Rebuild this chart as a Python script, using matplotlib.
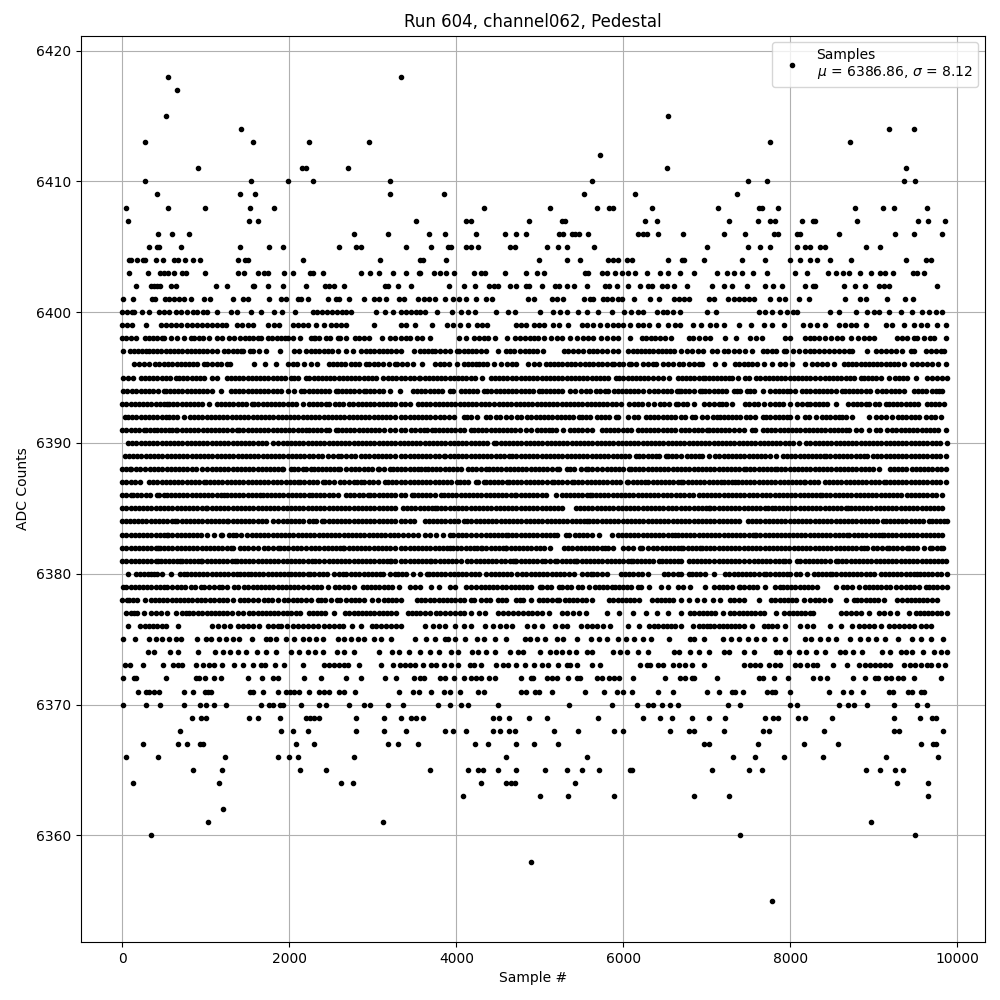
import matplotlib
matplotlib.use("Agg")
import matplotlib.pyplot as plt
import numpy as np

# Sample numbers, in tens of samples, one list per ADC level
s6418 = [55, 334]
s6417 = [66]
s6415 = [52, 654]
s6414 = [142, 918, 948]
s6413 = [27, 157, 223, 296, 775, 871]
s6412 = [572]
s6411 = [91, 215, 220, 270, 652, 938]
s6410 = [27, 154, 199, 228, 320, 563, 749, 772, 936, 949]
s6409 = [42, 141, 159, 321, 385, 553, 614, 736]
s6408 = [4, 55, 99, 153, 182, 433, 512, 569, 583, 587, 634, 713, 762, 766, 785, 877, 911, 924, 964]
s6407 = [7, 152, 162, 352, 411, 417, 487, 527, 530, 626, 640, 727, 761, 775, 782, 814, 827, 829, 880, 953, 965, 985]
s6406 = [43, 60, 80, 277, 318, 367, 387, 424, 458, 471, 483, 523, 528, 538, 542, 547, 558, 617, 623, 628, 642, 671, 720, 746, 780, 785, 808, 811, 858, 925, 948, 982]
s6405 = [32, 42, 44, 70, 141, 176, 192, 259, 280, 286, 340, 370, 390, 394, 412, 417, 426, 464, 470, 509, 522, 532, 565, 700, 749, 763, 776, 808, 817, 823, 836, 842, 890, 907]
s6404 = [8, 10, 18, 25, 27, 40, 49, 62, 67, 75, 85, 93, 138, 147, 151, 217, 309, 357, 360, 388, 499, 532, 548, 582, 587, 594, 604, 610, 653, 670, 673, 697, 742, 770, 800, 812, 823, 832, 848, 872, 938, 962, 968]
s6403 = [8, 31, 45, 50, 55, 62, 72, 76, 99, 139, 146, 163, 170, 175, 194, 205, 225, 228, 240, 286, 297, 307, 324, 340, 355, 357, 373, 380, 388, 397, 421, 429, 434, 458, 483, 497, 505, 554, 558, 575, 581, 590, 598, 606, 614, 628, 644, 653, 668, 684, 712, 724, 732, 742, 755, 772, 806, 820, 845, 854, 863, 870, 883, 896, 907, 913, 923, 947, 952, 960]
s6402 = [16, 34, 38, 42, 45, 58, 64, 112, 126, 156, 158, 175, 192, 220, 243, 247, 254, 266, 314, 318, 330, 346, 391, 409, 422, 439, 445, 450, 464, 471, 483, 487, 502, 518, 523, 532, 541, 557, 578, 583, 592, 605, 620, 630, 634, 646, 652, 661, 676, 706, 721, 730, 748, 769, 779, 790, 817, 827, 829, 864, 877, 889, 906, 912, 918, 976]
s6401 = [1, 13, 36, 39, 51, 56, 62, 68, 74, 82, 98, 105, 132, 145, 150, 176, 190, 196, 211, 214, 222, 246, 256, 260, 271, 289, 301, 307, 316, 331, 337, 354, 361, 367, 375, 386, 396, 403, 411, 423, 436, 443, 486, 493, 515, 520, 528, 553, 560, 564, 576, 581, 586, 593, 598, 613, 632, 643, 661, 667, 673, 678, 703, 708, 725, 733, 739, 745, 751, 757, 776, 786, 794, 810, 822, 865, 883, 890, 916, 937, 947]
s6400 = [0, 6, 12, 14, 24, 32, 44, 50, 56, 64, 70, 78, 85, 90, 97, 101, 114, 130, 137, 154, 166, 182, 191, 207, 228, 233, 239, 245, 251, 257, 263, 268, 274, 304, 314, 324, 334, 340, 346, 352, 356, 362, 377, 395, 405, 414, 422, 448, 462, 470, 500, 516, 524, 532, 546, 556, 570, 586, 601, 609, 617, 624, 640, 647, 652, 660, 668, 700, 711, 762, 770, 778, 788, 796, 803, 808, 848, 858, 878, 892, 900, 906, 918, 932, 945, 958, 966, 974, 982]
s6399 = [0, 6, 12, 28, 46, 52, 58, 64, 70, 78, 84, 90, 95, 101, 107, 113, 119, 124, 137, 143, 150, 156, 175, 182, 188, 204, 210, 216, 222, 232, 242, 250, 256, 262, 268, 301, 334, 340, 351, 371, 389, 396, 404, 414, 425, 431, 437, 471, 477, 483, 493, 499, 505, 516, 523, 534, 551, 557, 564, 572, 580, 587, 594, 599, 608, 617, 624, 631, 642, 654, 662, 668, 683, 693, 704, 711, 720, 739, 753, 768, 778, 792, 815, 824, 832, 842, 858, 865, 872, 878, 890, 915, 922, 936, 948, 956, 964, 976, 986]
s6398 = [0, 5, 10, 17, 27, 32, 37, 42, 47, 50, 58, 65, 74, 82, 86, 92, 97, 104, 114, 120, 128, 134, 141, 147, 152, 157, 162, 166, 175, 179, 185, 190, 195, 199, 204, 213, 226, 231, 236, 230, 244, 249, 258, 261, 268, 279, 284, 289, 295, 311, 321, 327, 334, 340, 345, 353, 359, 368, 403, 412, 421, 427, 433, 438, 446, 461, 470, 476, 482, 488, 493, 498, 505, 513, 521, 526, 536, 545, 552, 558, 564, 573, 580, 587, 593, 608, 622, 627, 633, 638, 644, 650, 657, 679, 683, 691, 698, 704, 722, 735, 752, 759, 766, 793, 800, 818, 824, 828, 834, 842, 849, 856, 862, 872, 881, 888, 894, 900, 928, 934, 940, 948, 952, 960, 967, 972, 986]
s6397 = [1, 9, 14, 19, 24, 29, 32, 37, 42, 46, 52, 57, 62, 67, 72, 77, 82, 87, 92, 97, 102, 107, 114, 122, 127, 132, 137, 142, 145, 153, 157, 164, 172, 189, 206, 212, 220, 226, 231, 236, 241, 246, 251, 258, 268, 276, 286, 292, 297, 302, 307, 312, 317, 322, 328, 334, 349, 357, 361, 366, 371, 375, 380, 387, 393, 401, 403, 409, 414, 419, 424, 429, 436, 450, 459, 464, 469, 476, 482, 487, 492, 497, 504, 529, 534, 540, 546, 552, 559, 564, 569, 574, 580, 587, 594, 606, 611, 616, 621, 626, 631, 636, 641, 646, 651, 656, 661, 669, 676, 682, 689, 695, 706, 712, 720, 725, 732, 738, 746, 754, 767, 772, 778, 783, 792, 795, 803, 810, 817, 824, 828, 834, 840, 846, 852, 858, 864, 870, 874, 892, 902, 908, 914, 920, 926, 934, 944, 948, 962, 968, 974, 980, 984]
s6396 = [14, 20, 26, 32, 39, 44, 50, 55, 60, 65, 70, 75, 80, 85, 90, 98, 102, 108, 113, 118, 125, 129, 158, 171, 184, 198, 204, 209, 218, 226, 233, 247, 252, 257, 262, 267, 274, 279, 284, 292, 296, 301, 306, 312, 319, 326, 329, 335, 341, 348, 359, 375, 380, 385, 391, 401, 409, 414, 419, 424, 427, 432, 437, 445, 453, 461, 467, 472, 486, 493, 499, 507, 512, 517, 522, 527, 532, 537, 542, 548, 554, 559, 564, 570, 575, 580, 586, 589, 595, 600, 607, 609, 615, 623, 629, 635, 639, 648, 654, 660, 667, 672, 678, 684, 690, 694, 710, 720, 734, 739, 744, 749, 754, 760, 768, 778, 788, 794, 802, 818, 826, 832, 838, 844, 852, 864, 869, 874, 879, 884, 889, 894, 899, 904, 909, 914, 919, 924, 929, 936, 946, 952, 958, 964, 970, 977, 986]
s6395 = [1, 7, 13, 22, 27, 32, 37, 42, 47, 52, 57, 64, 68, 73, 78, 83, 88, 93, 98, 108, 114, 125, 130, 135, 140, 145, 150, 155, 160, 165, 170, 175, 180, 185, 190, 195, 202, 206, 211, 220, 224, 229, 234, 239, 244, 249, 254, 259, 264, 269, 274, 279, 284, 289, 294, 299, 304, 312, 318, 323, 328, 334, 339, 344, 349, 355, 357, 362, 367, 372, 377, 382, 387, 392, 397, 402, 407, 412, 417, 422, 431, 441, 446, 451, 456, 461, 467, 472, 477, 482, 487, 492, 497, 502, 507, 512, 517, 522, 527, 532, 537, 542, 547, 552, 557, 562, 567, 572, 577, 582, 591, 595, 600, 605, 610, 615, 620, 625, 630, 635, 641, 648, 655, 665, 670, 675, 680, 685, 690, 695, 698, 702, 707, 712, 717, 722, 727, 730, 737, 746, 751, 759, 764, 769, 774, 779, 784, 789, 794, 799, 804, 809, 814, 819, 824, 830, 836, 841, 846, 851, 856, 861, 866, 871, 876, 884, 888, 893, 898, 903, 908, 918, 925, 930, 935, 940, 950, 964, 970, 976, 981, 987]
s6394 = [1, 6, 12, 17, 22, 27, 32, 37, 43, 50, 52, 57, 62, 67, 72, 77, 82, 87, 92, 97, 102, 107, 118, 130, 135, 140, 145, 150, 155, 160, 165, 170, 175, 180, 185, 190, 198, 206, 214, 218, 223, 228, 233, 238, 243, 248, 256, 258, 263, 268, 273, 278, 283, 290, 292, 297, 302, 307, 312, 320, 332, 348, 353, 358, 363, 368, 373, 378, 383, 393, 396, 405, 410, 415, 420, 425, 433, 437, 442, 447, 452, 457, 462, 467, 472, 477, 482, 487, 492, 499, 502, 507, 512, 517, 522, 527, 536, 542, 549, 555, 560, 567, 572, 578, 582, 589, 593, 598, 603, 608, 613, 618, 623, 631, 637, 642, 647, 652, 657, 667, 664, 669, 674, 679, 684, 692, 694, 698, 703, 708, 713, 718, 723, 732, 736, 740, 748, 752, 757, 767, 776, 781, 786, 791, 796, 800, 806, 814, 819, 824, 829, 834, 839, 844, 849, 854, 862, 865, 870, 875, 880, 885, 890, 895, 904, 910, 915, 920, 925, 930, 936, 948, 953, 958, 962, 969, 974, 978, 982]
s6393 = [0, 5, 10, 15, 20, 25, 30, 35, 40, 45, 50, 54, 56, 61, 66, 71, 76, 81, 86, 91, 96, 104, 113, 118, 123, 128, 133, 138, 143, 148, 155, 158, 163, 168, 173, 178, 183, 188, 193, 198, 203, 208, 216, 223, 228, 233, 238, 244, 247, 255, 259, 264, 272, 276, 282, 287, 292, 297, 302, 307, 312, 317, 322, 327, 334, 339, 345, 354, 359, 364, 369, 374, 379, 384, 389, 394, 399, 404, 409, 414, 419, 424, 429, 434, 439, 445, 451, 456, 461, 466, 471, 476, 481, 486, 491, 496, 501, 506, 511, 516, 521, 526, 531, 536, 541, 546, 551, 556, 561, 566, 571, 576, 581, 586, 591, 597, 607, 613, 617, 622, 629, 637, 644, 649, 655, 663, 666, 671, 676, 684, 696, 703, 708, 714, 718, 723, 730, 746, 751, 756, 761, 768, 776, 781, 786, 791, 800, 808, 814, 820, 824, 829, 834, 839, 844, 854, 869, 875, 880, 885, 890, 894, 901, 906, 914, 918, 923, 928, 933, 938, 943, 948, 953, 963, 968, 973, 978, 984]
s6392 = [3, 7, 12, 17, 22, 27, 32, 37, 42, 47, 52, 56, 61, 66, 74, 81, 86, 91, 96, 101, 106, 111, 116, 121, 126, 131, 136, 141, 146, 150, 156, 161, 166, 171, 176, 181, 186, 191, 196, 201, 206, 211, 216, 221, 226, 231, 236, 241, 246, 251, 256, 261, 266, 271, 276, 281, 286, 291, 296, 301, 306, 311, 316, 321, 326, 334, 339, 344, 349, 354, 359, 364, 369, 374, 381, 385, 391, 397, 409, 413, 418, 425, 435, 440, 447, 452, 459, 465, 473, 478, 485, 490, 495, 500, 505, 510, 515, 520, 525, 530, 535, 540, 547, 550, 555, 560, 569, 573, 578, 583, 591, 594, 605, 613, 618, 627, 632, 637, 642, 647, 652, 657, 662, 669, 674, 682, 686, 694, 700, 707, 712, 716, 720, 725, 730, 735, 740, 747, 752, 758, 767, 771, 776, 781, 786, 791, 796, 800, 808, 818, 822, 831, 838, 843, 848, 853, 858, 862, 866, 874, 894, 902, 908, 915, 922, 929, 934, 939, 944, 949, 954, 962, 968, 973, 980]
s6391 = [0, 5, 10, 15, 20, 26, 28, 33, 38, 41, 46, 51, 56, 60, 64, 66, 71, 76, 81, 86, 91, 97, 101, 106, 111, 116, 121, 126, 131, 137, 140, 145, 150, 155, 160, 165, 170, 175, 180, 185, 190, 195, 200, 205, 210, 215, 220, 224, 228, 233, 238, 244, 248, 256, 258, 263, 268, 273, 278, 283, 288, 293, 298, 303, 308, 313, 320, 327, 334, 339, 346, 351, 356, 361, 365, 371, 374, 379, 384, 389, 394, 399, 404, 409, 417, 421, 426, 431, 436, 441, 446, 451, 456, 461, 465, 470, 476, 484, 489, 496, 501, 506, 511, 515, 519, 528, 536, 541, 546, 551, 556, 563, 574, 579, 584, 589, 594, 599, 604, 609, 617, 622, 627, 632, 637, 642, 647, 652, 657, 662, 669, 674, 679, 684, 689, 694, 700, 702, 707, 712, 717, 722, 727, 732, 738, 744, 754, 758, 767, 772, 777, 782, 787, 792, 797, 802, 807, 812, 817, 822, 827, 832, 837, 842, 847, 852, 857, 862, 867, 870, 879, 884, 894, 902, 907, 916, 922, 927, 932, 937, 942, 947, 952, 957, 962, 967, 972, 977, 986]
s6390 = [7, 12, 17, 22, 27, 32, 37, 42, 47, 52, 57, 62, 67, 72, 77, 82, 87, 92, 97, 102, 107, 112, 117, 122, 127, 132, 137, 142, 147, 152, 157, 162, 167, 172, 180, 187, 192, 197, 202, 207, 212, 217, 222, 227, 232, 237, 242, 247, 252, 257, 262, 267, 272, 277, 282, 287, 292, 297, 302, 307, 312, 317, 322, 327, 332, 337, 342, 347, 352, 357, 362, 367, 372, 377, 382, 387, 392, 397, 402, 407, 412, 417, 422, 427, 432, 437, 445, 448, 453, 458, 463, 468, 473, 478, 483, 488, 493, 498, 503, 508, 513, 518, 523, 528, 533, 538, 543, 548, 553, 558, 563, 568, 573, 578, 583, 588, 593, 598, 603, 608, 613, 618, 623, 628, 633, 638, 643, 648, 653, 658, 663, 668, 673, 678, 683, 688, 693, 698, 703, 708, 713, 718, 723, 728, 733, 738, 743, 748, 753, 758, 763, 768, 773, 778, 783, 788, 793, 798, 803, 810, 819, 824, 829, 834, 839, 844, 849, 854, 859, 864, 869, 874, 879, 884, 889, 894, 899, 904, 909, 914, 919, 924, 929, 934, 939, 944, 949, 954, 959, 964, 969, 974, 979, 988]
s6389 = [3, 8, 13, 18, 23, 28, 33, 38, 43, 48, 53, 58, 63, 68, 73, 78, 83, 88, 93, 98, 103, 108, 113, 118, 123, 128, 133, 138, 143, 148, 153, 158, 163, 168, 173, 178, 183, 188, 193, 198, 203, 208, 213, 218, 224, 228, 234, 239, 246, 252, 258, 262, 268, 274, 279, 286, 291, 296, 301, 306, 311, 316, 321, 326, 334, 339, 344, 349, 354, 359, 364, 369, 374, 379, 385, 387, 392, 397, 402, 407, 412, 417, 422, 427, 432, 437, 442, 447, 452, 457, 463, 467, 472, 477, 482, 487, 492, 497, 502, 507, 512, 517, 522, 527, 532, 537, 542, 547, 552, 557, 562, 567, 572, 577, 582, 587, 592, 597, 602, 607, 615, 619, 624, 629, 634, 639, 643, 651, 653, 658, 663, 669, 676, 681, 686, 690, 694, 702, 710, 715, 720, 725, 730, 735, 740, 745, 750, 755, 760, 765, 770, 775, 783, 791, 796, 801, 806, 811, 816, 821, 826, 831, 836, 840, 843, 848, 853, 858, 863, 868, 873, 878, 883, 888, 892, 899, 904, 909, 914, 919, 924, 929, 934, 939, 944, 949, 954, 959, 964, 969, 974, 979, 986]
s6388 = [0, 5, 9, 11, 16, 21, 27, 33, 38, 43, 48, 53, 58, 63, 68, 73, 78, 83, 88, 96, 102, 107, 112, 117, 122, 127, 132, 137, 142, 147, 152, 157, 162, 167, 172, 177, 182, 187, 191, 193, 202, 206, 211, 216, 220, 226, 229, 234, 239, 244, 249, 254, 258, 261, 268, 274, 279, 284, 289, 294, 299, 306, 308, 313, 320, 324, 329, 334, 339, 344, 349, 354, 358, 363, 366, 371, 376, 381, 386, 391, 396, 401, 406, 414, 419, 424, 430, 435, 439, 444, 449, 454, 459, 464, 469, 474, 479, 484, 489, 494, 499, 504, 509, 514, 521, 523, 533, 536, 541, 549, 555, 558, 563, 568, 574, 581, 585, 590, 595, 600, 607, 609, 614, 619, 624, 629, 634, 639, 644, 649, 654, 659, 664, 669, 674, 679, 684, 689, 694, 699, 704, 709, 714, 719, 724, 729, 734, 739, 744, 747, 752, 757, 762, 767, 772, 777, 781, 784, 789, 794, 799, 804, 809, 814, 819, 824, 829, 834, 839, 844, 849, 854, 859, 864, 869, 874, 879, 884, 889, 894, 899, 906, 919, 924, 929, 934, 939, 946, 950, 955, 960, 965, 970, 975, 980, 986]
s6387 = [0, 5, 10, 15, 21, 32, 37, 42, 47, 52, 57, 62, 67, 72, 77, 82, 87, 92, 98, 100, 105, 110, 115, 120, 125, 130, 135, 140, 145, 150, 155, 160, 165, 170, 175, 180, 185, 190, 196, 201, 206, 210, 213, 218, 223, 228, 233, 240, 243, 248, 254, 261, 266, 271, 277, 281, 286, 290, 295, 300, 306, 314, 318, 323, 328, 334, 339, 344, 349, 354, 359, 364, 369, 374, 379, 384, 389, 394, 401, 404, 409, 414, 423, 426, 433, 435, 440, 445, 450, 455, 461, 463, 468, 473, 478, 483, 488, 493, 498, 503, 508, 515, 517, 522, 527, 532, 538, 541, 546, 551, 556, 561, 566, 571, 576, 581, 586, 591, 596, 604, 606, 611, 616, 621, 626, 630, 635, 640, 645, 650, 655, 660, 665, 669, 672, 677, 682, 687, 692, 697, 702, 707, 712, 717, 720, 725, 730, 734, 737, 742, 747, 752, 757, 762, 767, 772, 777, 782, 787, 792, 797, 802, 807, 812, 816, 818, 823, 828, 833, 842, 846, 851, 856, 861, 866, 871, 876, 881, 886, 891, 896, 901, 906, 912, 914, 919, 924, 929, 934, 939, 944, 949, 954, 959, 964, 969, 974, 979, 986]
s6386 = [0, 5, 11, 13, 18, 23, 28, 33, 41, 44, 50, 54, 58, 63, 68, 73, 78, 83, 88, 93, 98, 103, 108, 113, 118, 122, 125, 130, 135, 140, 145, 150, 155, 160, 165, 168, 173, 178, 183, 188, 193, 198, 203, 208, 213, 218, 224, 227, 232, 237, 242, 247, 252, 258, 268, 273, 278, 283, 288, 294, 297, 302, 307, 312, 317, 322, 327, 334, 339, 347, 349, 354, 359, 364, 369, 374, 382, 385, 390, 395, 400, 405, 410, 415, 420, 425, 430, 435, 440, 445, 450, 455, 460, 465, 470, 472, 477, 482, 487, 492, 497, 502, 507, 519, 526, 531, 536, 541, 546, 551, 556, 560, 562, 567, 572, 577, 582, 587, 592, 597, 602, 607, 612, 617, 622, 627, 632, 637, 642, 647, 652, 657, 663, 668, 673, 678, 683, 690, 695, 700, 705, 710, 715, 720, 725, 730, 735, 740, 745, 750, 755, 760, 766, 771, 776, 781, 786, 791, 796, 801, 806, 811, 816, 821, 826, 831, 836, 838, 843, 848, 853, 858, 863, 868, 873, 878, 883, 888, 893, 898, 903, 908, 913, 918, 923, 928, 933, 940, 944, 949, 954, 959, 964, 969, 974, 982]
s6385 = [0, 5, 10, 15, 20, 25, 30, 35, 40, 45, 50, 55, 60, 65, 70, 75, 80, 85, 90, 95, 100, 102, 107, 112, 117, 122, 127, 132, 137, 142, 147, 152, 157, 162, 167, 172, 177, 182, 187, 192, 197, 202, 207, 212, 217, 222, 227, 232, 237, 242, 247, 252, 257, 262, 267, 272, 277, 282, 287, 292, 297, 302, 307, 312, 317, 322, 327, 336, 341, 346, 351, 356, 361, 366, 371, 375, 377, 382, 387, 392, 397, 402, 407, 412, 417, 422, 427, 432, 437, 442, 447, 452, 457, 462, 467, 472, 477, 482, 487, 492, 497, 502, 507, 512, 517, 522, 527, 543, 548, 553, 558, 563, 568, 573, 578, 583, 588, 593, 598, 603, 608, 613, 618, 623, 628, 633, 638, 643, 648, 653, 658, 663, 669, 674, 679, 684, 689, 694, 699, 702, 704, 709, 714, 719, 724, 729, 734, 739, 744, 749, 754, 759, 764, 769, 773, 778, 781, 786, 791, 796, 801, 806, 811, 816, 821, 826, 831, 836, 841, 846, 851, 856, 861, 866, 869, 872, 877, 882, 887, 892, 897, 902, 907, 912, 917, 922, 927, 932, 937, 942, 947, 952, 957, 962, 967, 972, 977, 982]
s6384 = [0, 4, 9, 14, 19, 24, 29, 34, 39, 44, 49, 54, 59, 63, 66, 71, 76, 81, 86, 91, 96, 101, 106, 111, 116, 121, 125, 127, 132, 137, 142, 147, 152, 157, 162, 167, 172, 180, 187, 192, 197, 202, 207, 212, 217, 224, 228, 232, 239, 242, 247, 252, 257, 262, 267, 272, 277, 282, 287, 292, 297, 302, 307, 312, 317, 322, 327, 334, 339, 344, 349, 362, 367, 372, 377, 382, 387, 392, 397, 402, 409, 413, 418, 423, 428, 433, 438, 443, 448, 453, 458, 463, 468, 473, 478, 483, 488, 493, 498, 503, 508, 513, 518, 523, 528, 533, 538, 543, 548, 553, 556, 559, 564, 569, 574, 579, 584, 589, 594, 599, 604, 609, 614, 619, 624, 629, 634, 639, 644, 649, 654, 659, 664, 669, 674, 679, 684, 689, 694, 699, 704, 709, 714, 719, 724, 729, 734, 738, 749, 754, 759, 764, 769, 774, 779, 784, 789, 794, 799, 804, 809, 814, 819, 824, 829, 834, 839, 844, 849, 854, 859, 864, 869, 874, 879, 884, 889, 894, 899, 904, 911, 914, 919, 924, 929, 934, 939, 944, 949, 954, 959, 966, 970, 974, 979, 984, 988]
s6383 = [0, 5, 10, 15, 20, 25, 30, 35, 40, 45, 50, 54, 55, 60, 65, 70, 75, 80, 85, 90, 94, 101, 110, 118, 120, 128, 133, 136, 142, 149, 155, 160, 165, 170, 175, 180, 185, 190, 195, 200, 205, 210, 215, 220, 225, 230, 235, 240, 245, 250, 255, 260, 265, 270, 275, 280, 285, 290, 295, 300, 305, 310, 315, 320, 325, 330, 336, 342, 348, 354, 362, 369, 376, 384, 392, 396, 402, 407, 412, 418, 423, 430, 435, 440, 445, 450, 455, 460, 462, 467, 472, 477, 482, 487, 492, 497, 502, 507, 512, 517, 521, 531, 535, 542, 547, 552, 557, 562, 571, 586, 594, 598, 603, 608, 613, 618, 623, 628, 633, 638, 643, 648, 653, 658, 662, 666, 670, 675, 680, 685, 690, 695, 700, 705, 710, 715, 720, 725, 730, 735, 740, 745, 750, 755, 758, 759, 764, 769, 774, 779, 784, 789, 794, 798, 803, 808, 813, 818, 823, 828, 833, 838, 843, 848, 853, 858, 863, 868, 870, 876, 881, 886, 891, 896, 901, 906, 910, 912, 917, 922, 927, 932, 937, 942, 947, 952, 957, 962, 967, 972, 977, 982]
s6382 = [0, 5, 10, 15, 20, 25, 30, 35, 40, 43, 45, 50, 55, 60, 65, 70, 75, 80, 85, 90, 95, 100, 105, 110, 115, 120, 125, 130, 133, 141, 146, 151, 156, 162, 170, 175, 180, 186, 189, 194, 199, 204, 209, 214, 220, 226, 231, 236, 241, 246, 251, 256, 261, 264, 266, 271, 276, 281, 286, 291, 296, 301, 306, 311, 316, 321, 326, 334, 339, 344, 349, 354, 359, 364, 369, 374, 379, 384, 389, 393, 396, 401, 406, 411, 416, 421, 425, 429, 431, 436, 441, 446, 451, 456, 459, 460, 465, 470, 475, 480, 485, 490, 495, 500, 505, 512, 529, 534, 539, 544, 549, 554, 559, 564, 569, 574, 578, 582, 588, 600, 606, 612, 620, 622, 630, 636, 640, 646, 651, 656, 661, 666, 669, 672, 677, 682, 687, 692, 694, 699, 704, 709, 714, 719, 724, 729, 734, 739, 744, 749, 754, 759, 764, 769, 774, 779, 784, 789, 794, 798, 804, 809, 814, 819, 824, 829, 834, 839, 844, 849, 854, 859, 864, 869, 874, 879, 884, 888, 892, 899, 904, 910, 916, 918, 923, 928, 934, 940, 942, 947, 952, 960, 967, 970, 975, 980, 983]
s6381 = [0, 5, 10, 15, 20, 25, 30, 35, 40, 43, 46, 51, 56, 61, 66, 69, 71, 76, 81, 86, 91, 94, 96, 101, 106, 111, 116, 121, 126, 131, 135, 137, 142, 147, 152, 157, 162, 167, 172, 177, 182, 187, 192, 197, 202, 207, 212, 217, 222, 227, 231, 236, 242, 247, 252, 257, 262, 267, 272, 277, 282, 287, 292, 297, 302, 307, 312, 317, 320, 322, 327, 334, 339, 344, 349, 354, 359, 364, 369, 370, 375, 380, 385, 390, 395, 400, 406, 413, 418, 423, 428, 433, 438, 443, 448, 453, 458, 464, 468, 470, 472, 477, 482, 487, 492, 497, 502, 506, 512, 518, 521, 526, 531, 536, 541, 543, 545, 550, 555, 560, 565, 570, 575, 580, 585, 590, 595, 600, 605, 609, 611, 616, 621, 626, 631, 636, 643, 646, 651, 656, 661, 666, 669, 678, 683, 688, 693, 698, 703, 708, 714, 719, 724, 729, 734, 738, 744, 751, 756, 761, 766, 771, 776, 781, 786, 791, 794, 798, 808, 812, 817, 822, 827, 832, 837, 842, 847, 854, 857, 862, 867, 872, 877, 882, 887, 892, 897, 902, 907, 912, 917, 922, 927, 932, 937, 942, 947, 952, 957, 962, 967, 972, 977, 982, 986]
s6380 = [7, 16, 21, 26, 31, 34, 38, 42, 47, 58, 69, 74, 77, 82, 87, 92, 97, 102, 107, 112, 117, 122, 127, 132, 137, 141, 146, 150, 154, 159, 164, 169, 174, 179, 184, 189, 194, 199, 202, 207, 212, 217, 222, 225, 230, 235, 240, 245, 254, 259, 264, 268, 274, 279, 284, 289, 294, 299, 304, 309, 312, 320, 326, 330, 335, 340, 348, 357, 365, 367, 372, 377, 382, 387, 392, 397, 402, 407, 412, 417, 422, 427, 436, 441, 446, 451, 456, 461, 466, 473, 479, 484, 489, 494, 499, 504, 509, 514, 519, 524, 529, 535, 541, 550, 556, 561, 564, 569, 574, 580, 597, 602, 607, 612, 617, 622, 629, 649, 654, 660, 665, 669, 678, 682, 687, 692, 698, 708, 722, 727, 732, 737, 742, 747, 752, 757, 762, 768, 771, 776, 781, 786, 791, 796, 800, 807, 812, 820, 828, 833, 838, 843, 847, 850, 855, 860, 865, 870, 875, 880, 885, 890, 895, 900, 908, 913, 918, 923, 928, 933, 938, 943, 948, 951, 955, 960, 965, 970, 975, 980, 988]
s6379 = [1, 5, 10, 15, 20, 25, 30, 35, 40, 45, 50, 54, 60, 65, 70, 75, 82, 87, 94, 98, 104, 110, 116, 120, 126, 134, 139, 146, 151, 156, 161, 166, 171, 176, 181, 186, 191, 196, 201, 206, 211, 216, 222, 228, 233, 238, 246, 255, 260, 265, 270, 278, 288, 293, 298, 303, 308, 313, 318, 323, 331, 344, 351, 356, 370, 379, 392, 398, 411, 417, 424, 429, 434, 439, 444, 449, 455, 460, 465, 470, 475, 480, 485, 490, 500, 503, 508, 513, 523, 527, 532, 537, 546, 551, 559, 566, 571, 576, 581, 586, 590, 595, 599, 604, 609, 617, 621, 631, 645, 654, 666, 672, 680, 698, 708, 714, 719, 724, 730, 738, 740, 745, 750, 755, 760, 770, 782, 787, 791, 796, 801, 806, 811, 816, 821, 826, 832, 854, 863, 868, 874, 882, 889, 894, 899, 904, 909, 914, 919, 926, 932, 938, 943, 948, 954, 962, 966, 971, 976, 981, 988]
s6378 = [0, 6, 8, 13, 18, 27, 34, 39, 44, 49, 54, 59, 64, 69, 74, 79, 84, 89, 94, 99, 105, 110, 116, 121, 126, 132, 141, 146, 151, 156, 162, 170, 174, 179, 187, 194, 199, 204, 209, 214, 220, 226, 234, 238, 243, 250, 257, 261, 268, 274, 279, 284, 290, 299, 306, 313, 318, 323, 328, 334, 353, 358, 363, 368, 373, 379, 384, 389, 394, 399, 404, 409, 417, 421, 430, 435, 440, 450, 455, 460, 472, 476, 480, 490, 499, 504, 509, 514, 520, 523, 530, 535, 540, 545, 550, 555, 563, 583, 588, 593, 598, 603, 608, 613, 619, 634, 640, 645, 650, 655, 660, 669, 678, 688, 696, 707, 716, 728, 732, 738, 744, 762, 777, 782, 787, 792, 797, 802, 807, 816, 824, 830, 834, 840, 848, 867, 876, 880, 885, 890, 895, 900, 905, 912, 928, 934, 940, 944, 949, 954, 959, 964, 970, 976]
s6377 = [5, 10, 14, 18, 26, 34, 40, 46, 53, 64, 71, 76, 80, 85, 91, 96, 101, 106, 111, 116, 121, 126, 131, 138, 145, 152, 157, 162, 167, 172, 177, 182, 187, 192, 197, 202, 208, 213, 223, 228, 233, 238, 243, 254, 267, 272, 277, 282, 287, 292, 297, 302, 307, 312, 317, 322, 328, 342, 347, 352, 357, 362, 368, 376, 381, 386, 392, 398, 404, 409, 417, 427, 434, 450, 456, 462, 468, 474, 480, 486, 491, 497, 503, 511, 527, 533, 540, 547, 555, 581, 595, 611, 627, 640, 654, 669, 680, 685, 690, 695, 700, 705, 710, 719, 728, 733, 738, 743, 748, 753, 758, 763, 768, 783, 792, 798, 803, 808, 813, 818, 823, 827, 861, 867, 873, 878, 884, 894, 906, 912, 919, 928, 942, 950, 955, 960, 965, 970, 975, 980, 988]
s6376 = [7, 21, 27, 32, 37, 42, 47, 52, 67, 108, 115, 122, 129, 138, 144, 150, 157, 164, 174, 180, 186, 190, 197, 204, 210, 216, 222, 228, 234, 241, 248, 254, 260, 264, 275, 286, 299, 304, 310, 316, 322, 328, 334, 363, 372, 379, 386, 399, 409, 417, 434, 444, 452, 460, 467, 485, 493, 502, 518, 526, 533, 549, 556, 563, 569, 576, 584, 606, 619, 631, 637, 642, 647, 652, 657, 662, 669, 683, 690, 695, 700, 704, 709, 714, 719, 724, 729, 734, 739, 744, 754, 768, 773, 778, 784, 794, 811, 820, 827, 848, 861, 874, 882, 888, 894, 900, 908, 918, 924, 930, 936, 942, 948, 956, 962, 968]
s6375 = [1, 15, 32, 40, 48, 56, 64, 70, 90, 100, 106, 116, 124, 132, 140, 155, 172, 177, 184, 196, 206, 216, 224, 232, 240, 258, 266, 274, 282, 290, 302, 310, 322, 350, 364, 374, 386, 390, 398, 410, 425, 433, 446, 459, 482, 488, 496, 506, 521, 528, 545, 561, 571, 580, 593, 603, 613, 623, 633, 655, 680, 685, 696, 719, 729, 739, 749, 759, 768, 781, 793, 817, 825, 835, 845, 855, 871, 883, 893, 903, 913, 929, 945, 956, 968, 983]
s6374 = [31, 38, 57, 67, 91, 111, 121, 129, 138, 148, 161, 172, 184, 202, 212, 222, 231, 240, 257, 266, 278, 307, 323, 331, 343, 356, 368, 379, 394, 402, 419, 426, 435, 446, 464, 474, 480, 500, 512, 519, 527, 535, 543, 557, 563, 587, 596, 604, 618, 629, 661, 667, 680, 691, 703, 721, 726, 745, 756, 783, 787, 798, 810, 819, 831, 841, 859, 865, 875, 886, 910, 919, 932, 939, 945, 959, 972, 980, 987]
s6373 = [3, 9, 25, 49, 61, 67, 72, 88, 97, 104, 110, 120, 134, 145, 156, 166, 171, 183, 194, 216, 241, 248, 254, 260, 266, 270, 284, 310, 324, 332, 338, 344, 350, 360, 370, 376, 385, 394, 402, 416, 421, 429, 447, 456, 462, 471, 482, 493, 503, 510, 522, 532, 536, 544, 563, 572, 620, 628, 632, 641, 648, 660, 667, 674, 682, 697, 745, 752, 758, 764, 774, 781, 788, 805, 812, 820, 827, 832, 851, 868, 882, 889, 895, 901, 907, 913, 919, 936, 943, 949, 956, 964, 968, 977, 985]
s6372 = [1, 14, 16, 52, 88, 92, 99, 110, 118, 151, 167, 181, 187, 218, 238, 268, 286, 314, 328, 349, 356, 361, 381, 387, 397, 409, 417, 424, 430, 439, 446, 477, 489, 492, 509, 515, 520, 534, 544, 548, 568, 574, 583, 589, 595, 611, 650, 668, 674, 682, 685, 712, 762, 767, 780, 797, 827, 836, 844, 875, 889, 901, 905, 914, 920, 929, 935, 948, 980]
s6371 = [19, 28, 32, 38, 44, 74, 85, 99, 103, 106, 153, 156, 168, 187, 196, 201, 206, 212, 223, 235, 241, 248, 260, 266, 279, 331, 348, 355, 370, 385, 392, 404, 426, 433, 477, 483, 494, 499, 515, 554, 577, 592, 599, 610, 641, 660, 700, 714, 730, 734, 743, 772, 778, 782, 799, 846, 863, 872, 887, 918, 923, 941, 946, 956, 960]
s6370 = [1, 28, 45, 74, 93, 100, 110, 124, 166, 176, 180, 189, 192, 214, 236, 244, 271, 289, 297, 318, 336, 378, 392, 406, 414, 450, 535, 586, 616, 629, 635, 646, 656, 666, 725, 740, 800, 808, 858, 869, 876, 892, 924, 952, 964]
s6369 = [84, 94, 100, 152, 163, 189, 220, 225, 230, 236, 280, 313, 334, 346, 352, 360, 444, 451, 463, 487, 508, 570, 624, 644, 658, 682, 702, 722, 769, 779, 785, 809, 818, 850, 924, 955, 970, 974]
s6368 = [69, 190, 204, 222, 280, 313, 340, 387, 396, 411, 444, 452, 463, 470, 517, 546, 589, 600, 656, 678, 684, 721, 767, 774, 840, 924, 930, 983]
s6367 = [25, 67, 78, 93, 97, 208, 230, 318, 330, 354, 422, 438, 472, 493, 522, 696, 702, 761, 816, 857, 956, 971, 974]
s6366 = [4, 43, 123, 186, 200, 211, 277, 460, 556, 731, 758, 792, 839, 914, 977]
s6365 = [85, 120, 213, 244, 368, 414, 426, 432, 450, 472, 506, 533, 551, 571, 608, 610, 706, 750, 766, 890, 907, 925, 935]
s6364 = [13, 116, 262, 276, 429, 460, 465, 470, 542, 928, 965]
s6363 = [408, 500, 534, 589, 685, 726, 965]
s6362 = [121]
s6361 = [103, 312, 896]
s6360 = [34, 740, 949]
s6358 = [490]
s6355 = [778]

levels = {6418: s6418, 6417: s6417, 6415: s6415, 6414: s6414, 6413: s6413, 6412: s6412,
          6411: s6411, 6410: s6410, 6409: s6409, 6408: s6408, 6407: s6407, 6406: s6406,
          6405: s6405, 6404: s6404, 6403: s6403, 6402: s6402, 6401: s6401, 6400: s6400,
          6399: s6399, 6398: s6398, 6397: s6397, 6396: s6396, 6395: s6395, 6394: s6394,
          6393: s6393, 6392: s6392, 6391: s6391, 6390: s6390, 6389: s6389, 6388: s6388,
          6387: s6387, 6386: s6386, 6385: s6385, 6384: s6384, 6383: s6383, 6382: s6382,
          6381: s6381, 6380: s6380, 6379: s6379, 6378: s6378, 6377: s6377, 6376: s6376,
          6375: s6375, 6374: s6374, 6373: s6373, 6372: s6372, 6371: s6371, 6370: s6370,
          6369: s6369, 6368: s6368, 6367: s6367, 6366: s6366, 6365: s6365, 6364: s6364,
          6363: s6363, 6362: s6362, 6361: s6361, 6360: s6360, 6358: s6358, 6355: s6355}

x = np.concatenate([np.asarray(v, dtype=float) * 10 for v in levels.values()])
y = np.concatenate([np.full(len(v), k, dtype=float) for k, v in levels.items()])

fig, ax = plt.subplots(figsize=(10, 10), dpi=100)
ax.plot(x, y, '.', color='k', label='Samples\n$\\mu$ = 6386.86, $\\sigma$ = 8.12')
ax.set_title('Run 604, channel062, Pedestal')
ax.set_xlabel('Sample #')
ax.set_ylabel('ADC Counts')
ax.grid(True)
ax.legend(loc='upper right')
ax.set_xlim(-494, 10330)
ax.set_ylim(6351.85, 6421.15)
fig.subplots_adjust(left=0.081, right=0.985, top=0.9645, bottom=0.058)
fig.savefig('out.png', dpi=100)
